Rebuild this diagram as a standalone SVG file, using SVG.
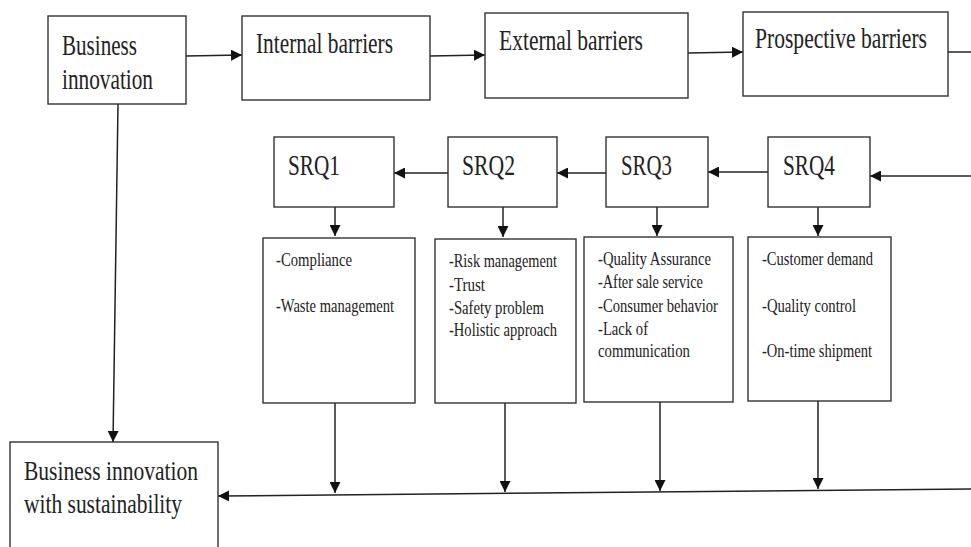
<svg xmlns="http://www.w3.org/2000/svg" width="971" height="547" viewBox="0 0 971 547">
<style>
.box{fill:#fff;stroke:#333;stroke-width:1.4}
.big{font-family:"Liberation Serif","Times New Roman",serif;font-size:29px;fill:#222}
.mid{font-family:"Liberation Serif","Times New Roman",serif;font-size:27px;fill:#222}
.sm{font-family:"Liberation Serif","Times New Roman",serif;font-size:18px;fill:#222}
.ln{fill:none;stroke:#222;stroke-width:1.5}
</style>
<defs>
<marker id="ah" viewBox="0 0 10 10" refX="10" refY="5" markerWidth="11" markerHeight="11" markerUnits="userSpaceOnUse" orient="auto">
<path d="M0,0 L10,5 L0,10 z" fill="#111"/>
</marker>
</defs>
<rect width="971" height="547" fill="#fff"/>
<g id="connectors">
<line class="ln" x1="186" y1="56" x2="242" y2="55" marker-end="url(#ah)"/>
<line class="ln" x1="430" y1="56" x2="485" y2="55" marker-end="url(#ah)"/>
<line class="ln" x1="688" y1="53" x2="743" y2="52" marker-end="url(#ah)"/>
<line class="ln" x1="948" y1="52" x2="971" y2="52"/>
<line class="ln" x1="971" y1="176" x2="870" y2="176" marker-end="url(#ah)"/>
<line class="ln" x1="768" y1="172" x2="708" y2="172" marker-end="url(#ah)"/>
<line class="ln" x1="606" y1="173" x2="557" y2="173" marker-end="url(#ah)"/>
<line class="ln" x1="448" y1="173" x2="394" y2="173" marker-end="url(#ah)"/>
<line class="ln" x1="335" y1="207" x2="335" y2="236" marker-end="url(#ah)"/>
<line class="ln" x1="503" y1="207" x2="503" y2="237" marker-end="url(#ah)"/>
<line class="ln" x1="657" y1="207" x2="657" y2="236" marker-end="url(#ah)"/>
<line class="ln" x1="818" y1="207" x2="818" y2="236" marker-end="url(#ah)"/>
<line class="ln" x1="118" y1="104" x2="113" y2="442" marker-end="url(#ah)"/>
<line class="ln" x1="335" y1="403" x2="335" y2="493" marker-end="url(#ah)"/>
<line class="ln" x1="505" y1="403" x2="505" y2="492" marker-end="url(#ah)"/>
<line class="ln" x1="660" y1="401" x2="660" y2="491" marker-end="url(#ah)"/>
<line class="ln" x1="818" y1="401" x2="818" y2="489" marker-end="url(#ah)"/>
<line class="ln" x1="971" y1="489" x2="218" y2="496" marker-end="url(#ah)"/>
</g>
<g id="business-innovation">
<rect class="box" x="48" y="16" width="138" height="88"/>
<text class="big" transform="translate(62,55) scale(0.75,1)" textLength="100" lengthAdjust="spacingAndGlyphs">Business</text>
<text class="big" transform="translate(62,89) scale(0.75,1)" textLength="121.3" lengthAdjust="spacingAndGlyphs">innovation</text>
</g>
<g id="internal-barriers">
<rect class="box" x="242" y="16" width="188" height="84"/>
<text class="big" transform="translate(256,53) scale(0.75,1)" textLength="182.7" lengthAdjust="spacingAndGlyphs">Internal barriers</text>
</g>
<g id="external-barriers">
<rect class="box" x="485" y="13" width="203" height="85"/>
<text class="big" transform="translate(499,50) scale(0.75,1)" textLength="192" lengthAdjust="spacingAndGlyphs">External barriers</text>
</g>
<g id="prospective-barriers">
<rect class="box" x="743" y="12" width="205" height="84"/>
<text class="big" transform="translate(755,48) scale(0.75,1)" textLength="229.3" lengthAdjust="spacingAndGlyphs">Prospective barriers</text>
</g>
<g id="srq1">
<rect class="box" x="274" y="137" width="120" height="70"/>
<text class="big" transform="translate(288,175) scale(0.75,1)" textLength="69.3" lengthAdjust="spacingAndGlyphs">SRQ1</text>
</g>
<g id="srq2">
<rect class="box" x="448" y="137" width="109" height="70"/>
<text class="big" transform="translate(462,175) scale(0.75,1)" textLength="70.7" lengthAdjust="spacingAndGlyphs">SRQ2</text>
</g>
<g id="srq3">
<rect class="box" x="606" y="137" width="102" height="70"/>
<text class="big" transform="translate(621,175) scale(0.75,1)" textLength="68" lengthAdjust="spacingAndGlyphs">SRQ3</text>
</g>
<g id="srq4">
<rect class="box" x="768" y="137" width="102" height="70"/>
<text class="big" transform="translate(783,175) scale(0.75,1)" textLength="69.3" lengthAdjust="spacingAndGlyphs">SRQ4</text>
</g>
<g id="box1">
<rect class="box" x="263" y="238" width="152" height="165"/>
<text class="sm" transform="translate(276,266) scale(0.82,1)" textLength="92.7" lengthAdjust="spacingAndGlyphs">-Compliance</text>
<text class="sm" transform="translate(276,312) scale(0.82,1)" textLength="143.9" lengthAdjust="spacingAndGlyphs">-Waste management</text>
</g>
<g id="box2">
<rect class="box" x="435" y="239" width="141" height="164"/>
<text class="sm" transform="translate(449,267) scale(0.82,1)" textLength="131.7" lengthAdjust="spacingAndGlyphs">-Risk management</text>
<text class="sm" transform="translate(449,291) scale(0.82,1)" textLength="43.9" lengthAdjust="spacingAndGlyphs">-Trust</text>
<text class="sm" transform="translate(449,314) scale(0.82,1)" textLength="115.9" lengthAdjust="spacingAndGlyphs">-Safety problem</text>
<text class="sm" transform="translate(449,336) scale(0.82,1)" textLength="131.7" lengthAdjust="spacingAndGlyphs">-Holistic approach</text>
</g>
<g id="box3">
<rect class="box" x="584" y="237" width="149" height="165"/>
<text class="sm" transform="translate(598,265) scale(0.82,1)" textLength="137.8" lengthAdjust="spacingAndGlyphs">-Quality Assurance</text>
<text class="sm" transform="translate(598,288) scale(0.82,1)" textLength="128" lengthAdjust="spacingAndGlyphs">-After sale service</text>
<text class="sm" transform="translate(598,312) scale(0.82,1)" textLength="146.3" lengthAdjust="spacingAndGlyphs">-Consumer behavior</text>
<text class="sm" transform="translate(598,335) scale(0.82,1)" textLength="61" lengthAdjust="spacingAndGlyphs">-Lack of</text>
<text class="sm" transform="translate(598,357) scale(0.82,1)" textLength="112.2" lengthAdjust="spacingAndGlyphs">communication</text>
</g>
<g id="box4">
<rect class="box" x="748" y="237" width="143" height="164"/>
<text class="sm" transform="translate(762,265) scale(0.82,1)" textLength="135.4" lengthAdjust="spacingAndGlyphs">-Customer demand</text>
<text class="sm" transform="translate(762,312) scale(0.82,1)" textLength="114.6" lengthAdjust="spacingAndGlyphs">-Quality control</text>
<text class="sm" transform="translate(762,357) scale(0.82,1)" textLength="134.1" lengthAdjust="spacingAndGlyphs">-On-time shipment</text>
</g>
<g id="business-innovation-sustainability">
<rect class="box" x="10" y="442" width="208" height="120"/>
<text class="mid" transform="translate(24,480) scale(0.75,1)" textLength="232" lengthAdjust="spacingAndGlyphs">Business innovation</text>
<text class="mid" transform="translate(24,513) scale(0.75,1)" textLength="210.7" lengthAdjust="spacingAndGlyphs">with sustainability</text>
</g>
</svg>
